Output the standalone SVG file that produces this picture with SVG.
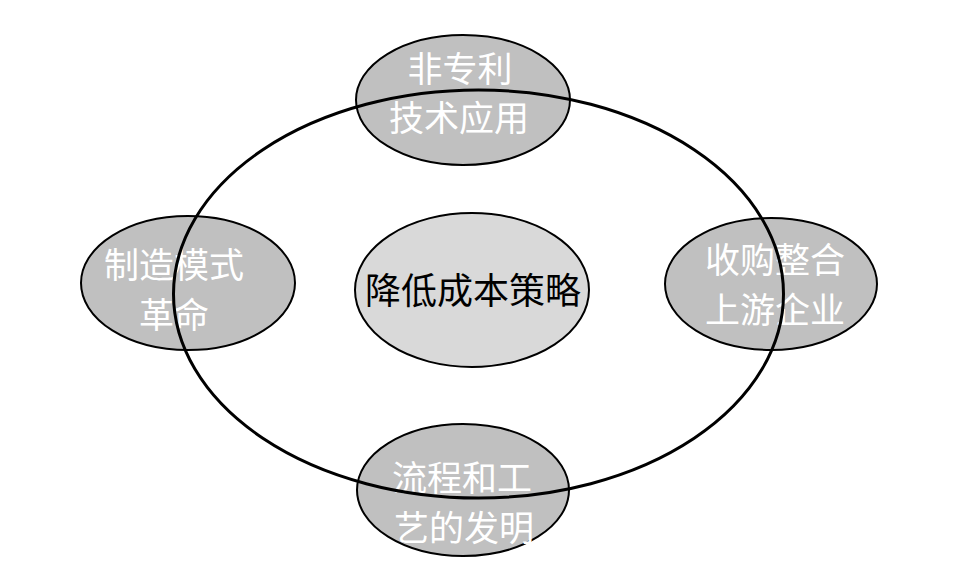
<svg xmlns="http://www.w3.org/2000/svg" width="966" height="569" viewBox="0 0 966 569">
<style>
.sm{fill:#c0c0c0;stroke:#000;stroke-width:2}
.ctr{fill:#d9d9d9;stroke:#000;stroke-width:2}
.big{fill:none;stroke:#000;stroke-width:3}
text{font-family:"Noto Sans CJK SC","Noto Sans",sans-serif;text-anchor:middle;dominant-baseline:central}
.w{fill:#fff;font-size:35px}
.b{fill:#000;font-size:36px}
</style>
<rect width="966" height="569" fill="#fff"/>
<g id="center">
<ellipse class="ctr" cx="472" cy="290" rx="117" ry="77"/>
<text class="b" x="473" y="288">降低成本策略</text>
</g>
<g id="top">
<ellipse class="sm" cx="463" cy="100" rx="107" ry="65"/>
<text class="w" x="460" y="66">非专利</text>
<text class="w" x="459" y="115">技术应用</text>
</g>
<g id="left">
<ellipse class="sm" cx="188" cy="283" rx="107" ry="67"/>
<text class="w" x="174" y="262">制造模式</text>
<text class="w" x="174" y="312">革命</text>
</g>
<g id="right">
<ellipse class="sm" cx="771" cy="284" rx="106" ry="66"/>
<text class="w" x="775" y="257">收购整合</text>
<text class="w" x="775" y="307">上游企业</text>
</g>
<g id="bottom">
<ellipse class="sm" cx="463" cy="490" rx="106" ry="66"/>
<text class="w" x="462" y="475">流程和工</text>
<text class="w" x="464" y="525">艺的发明</text>
</g>
<g id="connectors">
<ellipse class="big" cx="478.5" cy="294" rx="305" ry="204"/>
</g>
</svg>
